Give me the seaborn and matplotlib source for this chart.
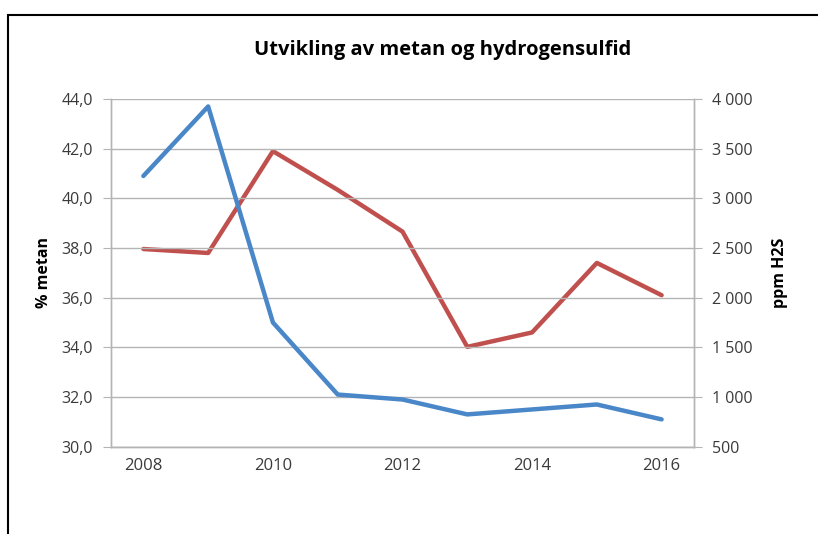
import numpy as np
import pandas as pd
import matplotlib
matplotlib.use("Agg")
import matplotlib.pyplot as plt
import matplotlib.ticker as mticker
from matplotlib.patches import Rectangle
import seaborn as sns

years = [2008, 2009, 2010, 2011, 2012, 2013, 2014, 2015, 2016]
metan = [40.9, 43.7, 35.0, 32.1, 31.9, 31.3, 31.5, 31.7, 31.1]
h2s = [2490, 2450, 3475, 3085, 2665, 1505, 1650, 2350, 2025]
left_ticks = [30, 32, 34, 36, 38, 40, 42, 44]
right_ticks = [500, 1000, 1500, 2000, 2500, 3000, 3500, 4000]
year_labels = [2008, 2010, 2012, 2014, 2016]

df = pd.DataFrame({"år": years, "metan": metan, "h2s": h2s})

sns.set_style("white")
plt.rcParams["font.family"] = ["Open Sans", "DejaVu Sans"]
txt = "#3a3a3a"
grid = "#b4b4b4"

fig = plt.figure(figsize=(8.18, 5.34), dpi=100)
ax = fig.add_axes([111 / 818, 1 - 446.7 / 534, (694 - 111) / 818, (446.7 - 99) / 534])
ax2 = ax.twinx()

sns.lineplot(data=df, x="år", y="metan", ax=ax, color="#4a87c8", linewidth=3.2, zorder=3)
sns.lineplot(data=df, x="år", y="h2s", ax=ax2, color="#c0504d", linewidth=3.2, zorder=3)

ax.set_xlim(2007.5, 2016.5)
ax.set_ylim(30, 44)
ax2.set_ylim(500, 4000)
ax.set_yticks(left_ticks)
ax.set_yticklabels([f"{v:.1f}".replace(".", ",") for v in left_ticks])
ax2.set_yticks(right_ticks)
ax2.set_yticklabels([f"{v:,}".replace(",", " ") for v in right_ticks])

ax.xaxis.set_major_locator(mticker.FixedLocator(np.arange(2007.5, 2017, 1)))
ax.xaxis.set_major_formatter(mticker.NullFormatter())
ax.xaxis.set_minor_locator(mticker.FixedLocator(year_labels))
ax.xaxis.set_minor_formatter(mticker.FixedFormatter([str(y) for y in year_labels]))
ax.tick_params(axis="x", which="major", length=5, color=grid, direction="out")
ax.tick_params(axis="x", which="minor", length=0, pad=8, labelsize=12, labelcolor=txt)
ax.tick_params(axis="y", length=6, color=grid, direction="out", labelsize=11.5, labelcolor=txt, pad=7)
ax2.tick_params(axis="y", length=6, color=grid, direction="out", labelsize=11.5, labelcolor=txt, pad=7)

ax.grid(axis="y", color=grid, linewidth=1)
ax.set_axisbelow(True)
for a in (ax, ax2):
    a.spines["top"].set_visible(False)
    for s in ("left", "right", "bottom"):
        a.spines[s].set_color(grid)
        a.spines[s].set_linewidth(1)
ax.set_zorder(ax2.get_zorder() + 1)
ax.patch.set_visible(False)

ax.set_xlabel("")
ax.set_ylabel("% metan", fontsize=11.5, fontweight="bold", color="black", labelpad=7)
ax2.set_ylabel("ppm H2S", fontsize=11.5, fontweight="bold", color="black", labelpad=14)

fig.text(443 / 818, 1 - 50 / 534, "Utvikling av metan og hydrogensulfid",
         ha="center", va="center", fontsize=14.5, fontweight="bold", color="black")

fig.patches.append(Rectangle((8 / 818, -0.1), 1.2, 1 - 15 / 534 + 0.1, transform=fig.transFigure,
                             fill=False, edgecolor="black", linewidth=1.5))

fig.savefig("out.png", dpi=100)
